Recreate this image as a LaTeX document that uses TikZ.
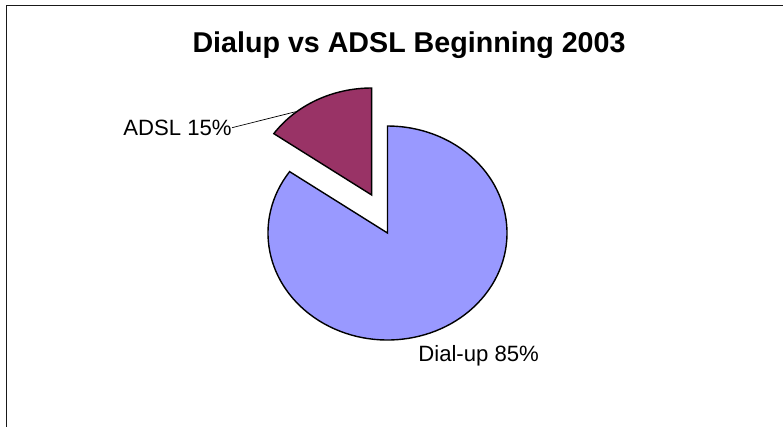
\documentclass[tikz,border=0pt]{standalone}
\usepackage{fontspec}
\setmainfont{Liberation Sans}
\usepackage{xcolor}
\usetikzlibrary{calc}
\definecolor{dialblue}{HTML}{9999FF}
\definecolor{adslplum}{HTML}{993366}
\tikzset{
	slice/.style={draw=black, line width=0.8pt, line join=miter},
	lbl/.style={inner sep=0pt, font=\fontsize{12.6}{15}\selectfont}
}

\begin{document}
\begin{tikzpicture}
        \useasboundingbox (0, 0) rectangle (15.66, -8.54);
        \draw[line width=1.1pt, black!90] (0.13, -8.54) -- (0.13, -0.11) -- (15.66, -0.11);
        \node[anchor=base, inner sep=0pt, font=\fontsize{16.3}{19}\selectfont\bfseries] (title) at (8.18, -1.054) {Dialup vs ADSL Beginning 2003};
        \coordinate (main_c) at (7.75, -4.66);
        \coordinate (adsl_c) at (7.434, -3.9);
        \filldraw[slice, fill=dialblue] (main_c) -- ++(145:2.39 and 2.14) arc[start angle=145, end angle=450, x radius=2.39, y radius=2.14] -- cycle;
        \filldraw[slice, fill=adslplum] (adsl_c) -- ++(90:2.39 and 2.14) arc[start angle=90, end angle=145, x radius=2.39, y radius=2.14] -- cycle;
        \node[lbl, anchor=east] (adsl_lbl) at (4.64, -2.554) {ADSL 15\%};
        \coordinate (adsl_in) at (5.914, -2.234);
        \draw[line width=0.4pt] (adsl_lbl.east) -- (adsl_in);
        \node[lbl, anchor=base west] (dial_lbl) at (8.36, -7.234) {Dial-up 85\%};
    \end{tikzpicture}
\end{document}
